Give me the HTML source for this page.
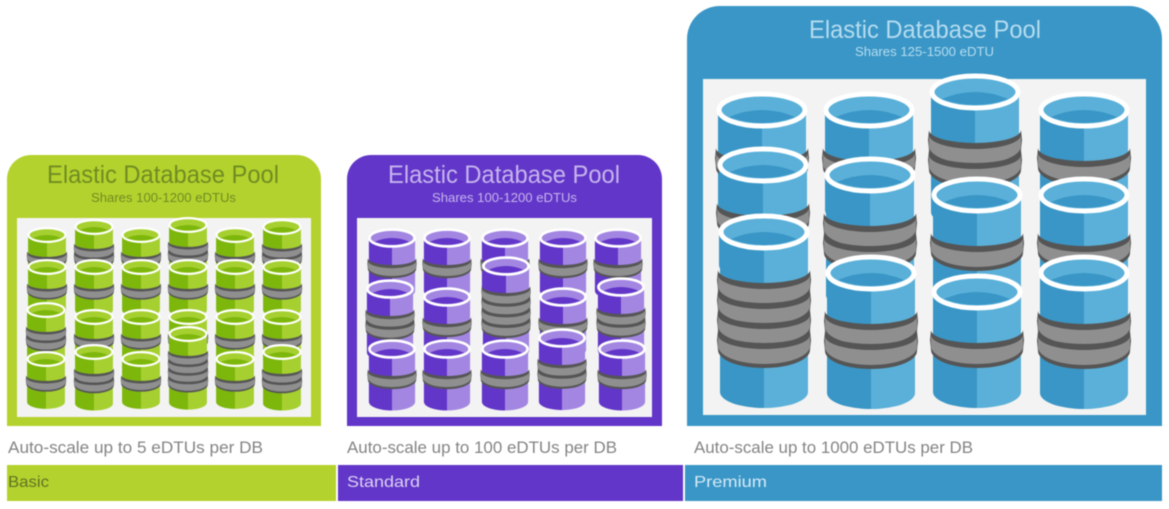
<!DOCTYPE html>
<html><head><meta charset="utf-8"><style>
html,body{margin:0;padding:0;background:#fff;width:1169px;height:509px;overflow:hidden}
svg{display:block;filter:blur(.5px)}
text{font-family:"Liberation Sans",sans-serif}
.g{--d:#7db70c;--l:#a6d030}
.v{--d:#6236c8;--l:#a386e2}
.c{--d:#3a96c6;--l:#5ab0d9}
</style></head><body>
<svg xmlns="http://www.w3.org/2000/svg" width="1169" height="509" viewBox="0 0 1169 509">
<defs>
<g id="b"><path d="M-46,0A46,13 0 0 0 46,0L47,10L46,20A46,18 0 0 1 -46,20L-47,10Z" fill="#555"/><path d="M-46,5A46,14 0 0 0 46,5V16A46,18 0 0 1 -46,16Z" fill="#8f8f8f"/></g>
<g id="r"><ellipse rx="43" ry="16" fill="var(--l)" stroke="#fff" stroke-width="5"/><path d="M-33,7Q0,-7 33,7Q0,19 -33,7Z" fill="var(--d)"/></g>
<g id="c1"><path d="M-44,0V100A44,16 0 0 0 0,116V0Z" fill="var(--d)"/><path d="M0,0V116A44,16 0 0 0 44,100V0Z" fill="var(--l)"/><use href="#b" y="38"/><use href="#r"/></g>
<g id="c2"><path d="M-44,0V120A44,16 0 0 0 0,136V0Z" fill="var(--d)"/><path d="M0,0V136A44,16 0 0 0 44,120V0Z" fill="var(--l)"/><use href="#b" y="38"/><use href="#b" y="58"/><use href="#r"/></g>
<g id="c4"><path d="M-44,0V160A44,16 0 0 0 0,176V0Z" fill="var(--d)"/><path d="M0,0V176A44,16 0 0 0 44,160V0Z" fill="var(--l)"/><use href="#b" y="38"/><use href="#b" y="58"/><use href="#b" y="78"/><use href="#b" y="98"/><use href="#r"/></g>
</defs>

<!-- Basic -->
<path d="M7,426V179A24,24 0 0 1 31,155H297A24,24 0 0 1 321,179V426Z" fill="#b4d22d"/>
<rect x="17" y="218" width="294" height="199" fill="#f3f3f3"/>
<text x="47" y="183" font-size="25" textLength="232" lengthAdjust="spacingAndGlyphs" fill="#6f8c22">Elastic Database Pool</text>
<text x="91" y="202" font-size="13" textLength="145" lengthAdjust="spacingAndGlyphs" fill="#6f8c22">Shares 100-1200 eDTUs</text>
<g class="g">
<use href="#c1" transform="translate(47,235) scale(.43,.43)"/>
<use href="#c1" transform="translate(47,267) scale(.43,.43)"/>
<use href="#c2" transform="translate(46,310) scale(.43,.43)"/>
<use href="#c1" transform="translate(46,359) scale(.43,.43)"/>
<use href="#c2" transform="translate(94,227) scale(.43,.43)"/>
<use href="#c1" transform="translate(94,267) scale(.43,.43)"/>
<use href="#c1" transform="translate(94,317) scale(.43,.43)"/>
<use href="#c2" transform="translate(94,352) scale(.43,.43)"/>
<use href="#c1" transform="translate(141,235) scale(.43,.43)"/>
<use href="#c1" transform="translate(141,267) scale(.43,.43)"/>
<use href="#c1" transform="translate(141,317) scale(.43,.43)"/>
<use href="#c1" transform="translate(141,359) scale(.43,.43)"/>
<use href="#c2" transform="translate(188,225) scale(.43,.43)"/>
<use href="#c1" transform="translate(188,267) scale(.43,.43)"/>
<use href="#c1" transform="translate(188,317) scale(.43,.43)"/>
<use href="#c4" transform="translate(188,334) scale(.43,.43)"/>
<use href="#c1" transform="translate(235,235) scale(.43,.43)"/>
<use href="#c1" transform="translate(235,267) scale(.43,.43)"/>
<use href="#c1" transform="translate(235,317) scale(.43,.43)"/>
<use href="#c1" transform="translate(235,359) scale(.43,.43)"/>
<use href="#c2" transform="translate(282,227) scale(.43,.43)"/>
<use href="#c1" transform="translate(282,267) scale(.43,.43)"/>
<use href="#c1" transform="translate(282,317) scale(.43,.43)"/>
<use href="#c2" transform="translate(282,352) scale(.43,.43)"/>
</g>
<text x="8" y="453" font-size="16.5" textLength="255" lengthAdjust="spacingAndGlyphs" fill="#848484">Auto-scale up to 5 eDTUs per DB</text>
<rect x="7" y="465" width="329" height="36" fill="#b4d22d"/>
<text x="8" y="487" font-size="16" textLength="41" lengthAdjust="spacingAndGlyphs" fill="#5f7424">Basic</text>

<!-- Standard -->
<path d="M347,426V179A24,24 0 0 1 371,155H638A24,24 0 0 1 662,179V426Z" fill="#6236c8"/>
<rect x="357" y="218" width="295" height="199" fill="#f3f3f3"/>
<text x="388" y="183" font-size="25" textLength="232" lengthAdjust="spacingAndGlyphs" fill="#c6b4ee">Elastic Database Pool</text>
<text x="432" y="202" font-size="13" textLength="145" lengthAdjust="spacingAndGlyphs" fill="#c6b4ee">Shares 100-1200 eDTUs</text>
<g class="v">
<use href="#c1" transform="translate(392,238) scale(.525,.53)"/>
<use href="#c2" transform="translate(390,289) scale(.525,.53)"/>
<use href="#c1" transform="translate(392,349) scale(.525,.53)"/>
<use href="#c1" transform="translate(447,238) scale(.525,.53)"/>
<use href="#c1" transform="translate(447,297) scale(.525,.53)"/>
<use href="#c1" transform="translate(447,349) scale(.525,.53)"/>
<use href="#c1" transform="translate(505,238) scale(.525,.53)"/>
<use href="#c4" transform="translate(506,266) scale(.525,.53)"/>
<use href="#c1" transform="translate(505,349) scale(.525,.53)"/>
<use href="#c1" transform="translate(563,238) scale(.525,.53)"/>
<use href="#c1" transform="translate(563,297) scale(.525,.53)"/>
<use href="#c2" transform="translate(562,338) scale(.525,.53)"/>
<use href="#c1" transform="translate(618,238) scale(.525,.53)"/>
<use href="#c2" transform="translate(621,287) scale(.525,.53)"/>
<use href="#c1" transform="translate(622,349) scale(.525,.53)"/>
</g>
<text x="347" y="453" font-size="16.5" textLength="270" lengthAdjust="spacingAndGlyphs" fill="#848484">Auto-scale up to 100 eDTUs per DB</text>
<rect x="338" y="465" width="345" height="36" fill="#6236c8"/>
<text x="347" y="487" font-size="16" textLength="73" lengthAdjust="spacingAndGlyphs" fill="#ddd3f4">Standard</text>

<!-- Premium -->
<path d="M687,426V39A33,33 0 0 1 720,6H1129A33,33 0 0 1 1162,39V426Z" fill="#3a96c6"/>
<rect x="703" y="79" width="443" height="336" fill="#f3f3f3"/>
<text x="809" y="38" font-size="25" textLength="232" lengthAdjust="spacingAndGlyphs" fill="#b5dcf0">Elastic Database Pool</text>
<text x="855" y="56" font-size="13" textLength="139" lengthAdjust="spacingAndGlyphs" fill="#b5dcf0">Shares 125-1500 eDTU</text>
<g class="c">
<use href="#c1" x="762" y="110"/>
<use href="#c1" x="763" y="165"/>
<use href="#c4" x="764" y="232"/>
<use href="#c1" x="869" y="110"/>
<use href="#c2" x="870" y="175"/>
<use href="#c2" x="871" y="273"/>
<use href="#c2" x="975" y="92"/>
<use href="#c1" x="977" y="195"/>
<use href="#c1" x="977" y="292"/>
<use href="#c1" x="1084" y="110"/>
<use href="#c1" x="1084" y="195"/>
<use href="#c2" x="1084" y="273"/>
</g>
<text x="694" y="453" font-size="16.5" textLength="279" lengthAdjust="spacingAndGlyphs" fill="#848484">Auto-scale up to 1000 eDTUs per DB</text>
<rect x="685" y="465" width="477" height="36" fill="#3a96c6"/>
<text x="694" y="487" font-size="16" textLength="73" lengthAdjust="spacingAndGlyphs" fill="#d4eaf6">Premium</text>
</svg>
</body></html>
